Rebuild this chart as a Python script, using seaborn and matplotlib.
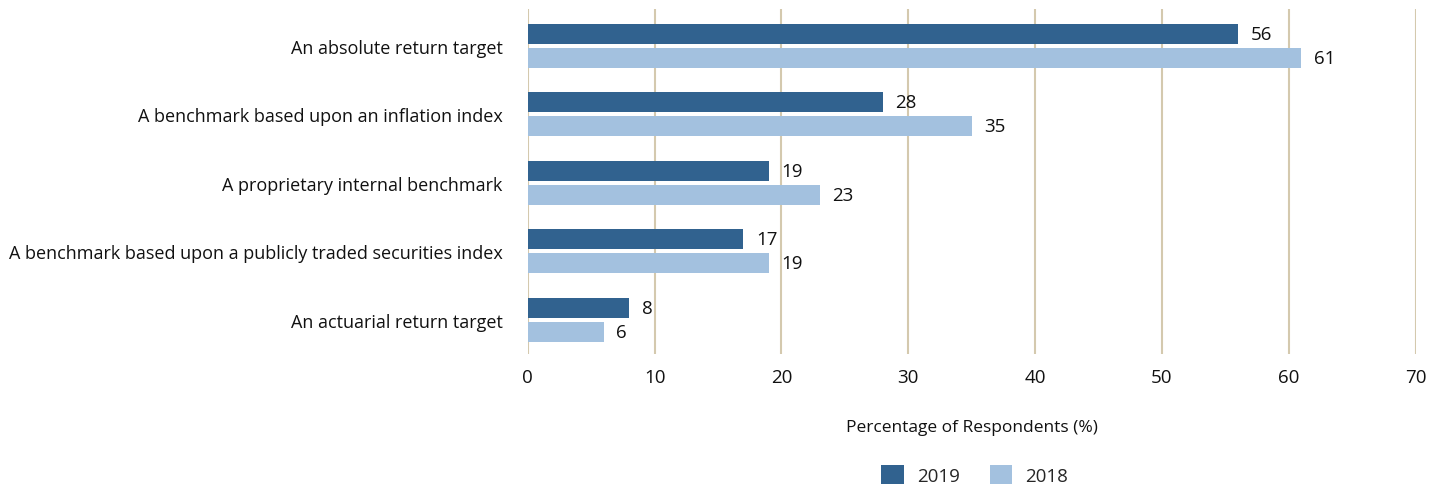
import pandas as pd
import matplotlib.pyplot as plt
import seaborn as sns

categories = ['An absolute return target',
              'A benchmark based upon an inflation index',
              'A proprietary internal benchmark',
              'A benchmark based upon a publicly traded securities index',
              'An actuarial return target']
vals_2019 = [56, 28, 19, 17, 8]
vals_2018 = [61, 35, 23, 19, 6]
years = ['2019', '2018']

df = pd.DataFrame({
    'category': categories * 2,
    'year': [years[0]] * len(categories) + [years[1]] * len(categories),
    'value': vals_2019 + vals_2018,
})

sns.set_style('white')
plt.rcParams['font.family'] = ['Open Sans', 'DejaVu Sans']

fig = plt.figure(figsize=(14.46, 4.89), dpi=100)
ax = fig.add_axes([0.365, 0.274, 0.614, 0.706])

pal = {'2019': '#31628f', '2018': '#a3c1df'}
sns.barplot(data=df, y='category', x='value', hue='year', palette=pal,
            orient='h', width=0.7, gap=0.15, saturation=1, linewidth=0, ax=ax)

# value labels
for cont in ax.containers:
    ax.bar_label(cont, padding=9, fontsize=13.5, color='#111111')

ax.set_xlim(0, 70)
ax.set_ylim(4.5, -0.54)
ax.set_xticks(range(0, 71, 10))
ax.grid(axis='x', color='#d4c9ae', linewidth=1.5)
ax.set_axisbelow(True)
for s in ax.spines.values():
    s.set_visible(False)
ax.tick_params(axis='both', length=0, labelsize=13, colors='#111111')
ax.tick_params(axis='x', pad=10, labelsize=13.5)
ax.tick_params(axis='y', pad=18)
ax.set_ylabel('')
ax.set_xlabel('Percentage of Respondents (%)', fontsize=12.5, color='#111111', labelpad=24)

handles, labels = ax.get_legend_handles_labels()
ax.get_legend().remove()
fig.legend(handles, labels, loc='center', bbox_to_anchor=(0.674, 0.027), ncol=2,
           frameon=False, fontsize=13.5, handlelength=1.2, handleheight=1.2,
           columnspacing=1.6, handletextpad=0.7, borderpad=0.2)

fig.savefig('out.png', dpi=100)
